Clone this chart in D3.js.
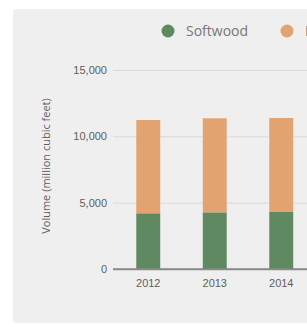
<!DOCTYPE html>
<html>
<head>
<meta charset="utf-8">
<script src="https://cdn.jsdelivr.net/npm/d3@7"></script>
<style>
  body { margin: 0; background: #fff; }
  svg { display: block; font-family: "Open Sans", sans-serif; }
</style>
</head>
<body>
<svg width="307" height="327"></svg>
<script>
var years = ["2012", "2013", "2014"];
var softwood = [4200, 4270, 4300];
var hardwood = [7030, 7090, 7080];
var seriesNames = ["Softwood", "Hardwood"];
var yTicks = [0, 5000, 10000, 15000];

var width = 307,
  height = 327;

var color = d3.scaleOrdinal()
  .domain(seriesNames)
  .range(["#5f8a61", "#e3a370"]);

var rows = years.map(function (y, i) {
  return { year: y, Softwood: softwood[i], Hardwood: hardwood[i] };
});

var stack = d3.stack().keys(seriesNames);
var series = stack(rows);

var svg = d3.select("svg");

// panel
svg.append("rect")
  .attr("x", 13)
  .attr("y", 9)
  .attr("width", width)
  .attr("height", 314)
  .attr("rx", 3)
  .attr("fill", "#efefef");

var x = d3.scaleBand()
  .domain(years)
  .range([115, 314.5])
  .paddingInner(0.64)
  .paddingOuter(0.32);

var y = d3.scaleLinear()
  .domain([0, 15000])
  .range([269, 70]);

var fmt = d3.format(",");

// y axis with gridlines
var yAxis = svg.append("g")
  .attr("transform", "translate(113,0)")
  .call(d3.axisLeft(y).tickValues(yTicks).tickFormat(fmt).tickSize(-(width - 113)).tickPadding(6));

yAxis.select(".domain").remove();
yAxis.selectAll(".tick line")
  .attr("stroke", d => d === 0 ? "#8a8a8a" : "#d9d9d9")
  .attr("stroke-width", d => d === 0 ? 1.5 : 1);
yAxis.selectAll(".tick text")
  .attr("fill", "#5e5e5e")
  .style("font-size", "11px");

// bars
svg.append("g")
  .selectAll("g")
  .data(series)
  .enter().append("g")
  .attr("fill", d => color(d.key))
  .selectAll("rect")
  .data(d => d)
  .enter().append("rect")
  .attr("x", d => x(d.data.year))
  .attr("y", d => y(d[1]))
  .attr("width", x.bandwidth())
  .attr("height", d => y(d[0]) - y(d[1]));

// redraw baseline over bars
svg.append("line")
  .attr("x1", 113)
  .attr("x2", width)
  .attr("y1", y(0))
  .attr("y2", y(0))
  .attr("stroke", "#8a8a8a")
  .attr("stroke-width", 1.5);

// x axis labels
var xAxis = svg.append("g")
  .attr("transform", "translate(0," + y(0) + ")")
  .call(d3.axisBottom(x).tickSize(0).tickPadding(10));

xAxis.select(".domain").remove();
xAxis.selectAll(".tick text")
  .attr("fill", "#5e5e5e")
  .style("font-size", "11px");

// y title
svg.append("text")
  .attr("transform", "translate(50,166) rotate(-90)")
  .attr("text-anchor", "middle")
  .attr("fill", "#5e5e5e")
  .style("font-size", "11px")
  .text("Volume (million cubic feet)");

// legend
var legendX = [168, 287];
var legend = svg.append("g")
  .selectAll("g")
  .data(seriesNames)
  .enter().append("g")
  .attr("transform", (d, i) => `translate(${legendX[i]},31)`);

legend.append("circle")
  .attr("r", 6.5)
  .attr("fill", d => color(d));

legend.append("text")
  .attr("x", 18)
  .attr("dy", "0.35em")
  .attr("fill", "#777")
  .style("font-size", "14px")
  .text(d => d);
</script>
</body>
</html>
